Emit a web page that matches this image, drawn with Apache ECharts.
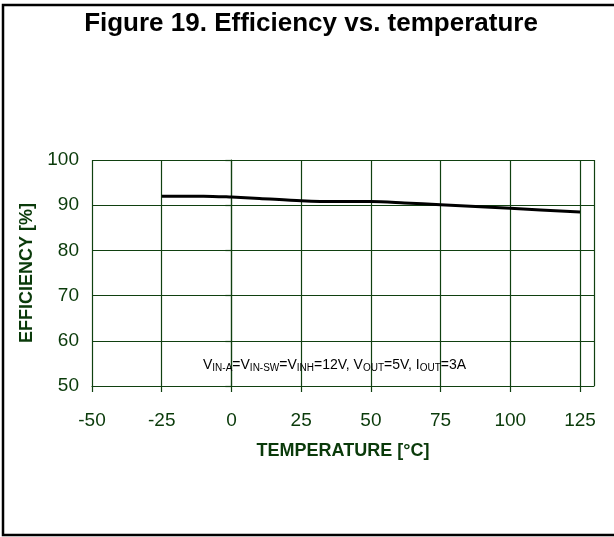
<!DOCTYPE html>
<html>
<head>
<meta charset="utf-8">
<script src="https://cdn.jsdelivr.net/npm/echarts@6/dist/echarts.min.js"></script>
<style>
html,body{margin:0;padding:0;background:#fff;}
#chart{width:614px;height:537px;}
</style>
</head>
<body>
<div id="chart"></div>
<script>
const temperature = [-25, -10, 0, 10, 25, 37, 50, 62, 75, 100, 125];
const efficiency = [92.0, 92.0, 91.8, 91.5, 91.0, 90.8, 90.8, 90.5, 90.1, 89.3, 88.5];
const xTicks = [-50, -25, 0, 25, 50, 75, 100, 125];
const yTicks = [50, 60, 70, 80, 90, 100];

const green = '#0a3a0a';
const gridGreen = '#104010';
const font = 'Arial, "Liberation Sans", sans-serif';

const chart = echarts.init(document.getElementById('chart'), null, {renderer: 'canvas'});
chart.setOption({
  animation: false,
  backgroundColor: '#fff',
  title: {
    text: 'Figure 19. Efficiency vs. temperature',
    left: 306, textAlign: 'center',
    top: 6,
    textStyle: {fontFamily: font, fontWeight: 'bold', fontSize: 26, color: '#000'}
  },
  grid: {left: 92, right: 20, top: 160, bottom: 151, containLabel: false},
  xAxis: {
    type: 'value', min: -50, max: 130, interval: 25,
    name: 'TEMPERATURE [°C]', nameLocation: 'middle', nameGap: 56,
    nameTextStyle: {fontFamily: font, fontWeight: 'bold', fontSize: 18, color: green},
    axisLine: {show: true, lineStyle: {color: gridGreen, width: 1.2}},
    axisTick: {show: true, length: 6, lineStyle: {color: gridGreen, width: 1.2}},
    axisLabel: {
      fontFamily: font, fontSize: 19, color: green, margin: 25,
      showMaxLabel: false,
      formatter: v => xTicks.indexOf(v) >= 0 ? String(v) : ''
    },
    splitLine: {show: true, lineStyle: {color: gridGreen, width: 1.2}}
  },
  yAxis: {
    type: 'value', min: 50, max: 100, interval: 10,
    name: 'EFFICIENCY [%]', nameLocation: 'middle', nameGap: 56,
    nameTextStyle: {fontFamily: font, fontWeight: 'bold', fontSize: 18, color: green},
    axisLine: {show: true, lineStyle: {color: gridGreen, width: 1.2}},
    axisTick: {show: true, length: 6, lineStyle: {color: gridGreen, width: 1.2}},
    axisLabel: {
      fontFamily: font, fontSize: 19, color: green, margin: 13,
      formatter: v => yTicks.indexOf(v) >= 0 ? String(v) : ''
    },
    splitLine: {show: true, lineStyle: {color: gridGreen, width: 1.2}}
  },
  series: [{
    type: 'line',
    data: temperature.map((t, i) => [t, efficiency[i]]),
    smooth: 0.3,
    showSymbol: false,
    lineStyle: {color: '#000', width: 3},
    z: 5
  }],
  graphic: [
    {
      type: 'polyline', z: 100, silent: true,
      shape: {points: [[614, 5], [3, 5], [3, 535], [614, 535]]},
      style: {fill: 'none', stroke: '#000', lineWidth: 2.5}
    },
    {
      type: 'text', left: 203, top: 358, z: 50,
      style: {
        text: 'V{s|IN-A}=V{s|IN-SW}=V{s|INH}=12V, V{s|OUT}=5V, I{s|OUT}=3A',
        fontFamily: font, fontSize: 14, fill: '#000',
        rich: {s: {fontFamily: font, fontSize: 10, verticalAlign: 'bottom', padding: [6, 0, 0, 0], fill: '#000'}}
      }
    }
  ]
});
</script>
</body>
</html>
